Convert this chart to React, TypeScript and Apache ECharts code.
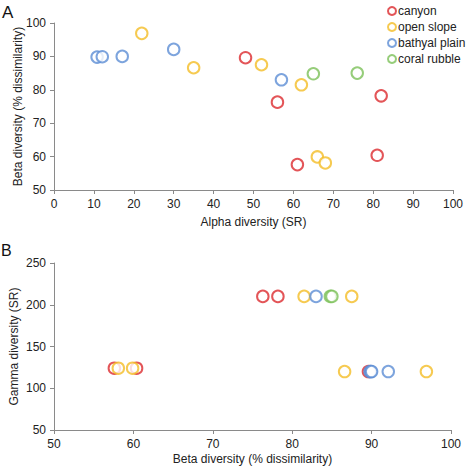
import React, { useEffect, useRef } from "react";
import * as echarts from "echarts";

// Habitat groups and their colours
const habitats = ["canyon", "open slope", "bathyal plain", "coral rubble"];
const colors = ["#dc2a2e", "#f4bd25", "#5d8dd5", "#7cc059"];

// Alpha diversity (SR) per sample, by habitat
const canyonAlpha = [48, 56, 82, 81, 61];
const slopeAlpha = [22, 35, 52, 62, 66, 68];
const plainAlpha = [10.8, 12.1, 17.1, 30, 57];
const rubbleAlpha = [65, 76];

// Beta diversity (% dissimilarity) per sample, by habitat
const canyonBeta = [89.6, 76.3, 78.2, 60.4, 57.6];
const slopeBeta = [96.9, 86.6, 87.5, 81.5, 59.9, 58.1];
const plainBeta = [89.8, 89.9, 90.0, 92.1, 83.0];
const rubbleBeta = [84.8, 85.0];

// Gamma diversity (SR) per sample, by habitat
const canyonGamma = [120, 210, 210, 124, 124];
const slopeGamma = [120, 120, 210, 210, 124, 124];
const plainGamma = [120, 120, 120, 120, 210];
const rubbleGamma = [210, 210];

const alphaByHabitat = [canyonAlpha, slopeAlpha, plainAlpha, rubbleAlpha];
const betaByHabitat = [canyonBeta, slopeBeta, plainBeta, rubbleBeta];
const gammaByHabitat = [canyonGamma, slopeGamma, plainGamma, rubbleGamma];

const FONT = "'Liberation Sans', Arial, Helvetica, sans-serif";

const zip = (a: number[], b: number[]) => a.map((v, i) => [v, b[i]]);

function axisBase(min: number, max: number, interval: number) {
  return {
    min,
    max,
    interval,
    nameMoveOverlap: false,
    splitLine: { show: false },
    axisLine: { show: true, onZero: false, lineStyle: { color: "#8a8a8a", width: 1 } },
    axisTick: { show: true, length: 4, lineStyle: { color: "#8a8a8a" } },
    axisLabel: { color: "#222", fontFamily: FONT, fontSize: 12, margin: 8 },
    nameTextStyle: { color: "#222", fontFamily: FONT, fontSize: 12 },
  };
}

export default function App() {
  const ref = useRef<HTMLDivElement>(null);

  useEffect(() => {
    if (!ref.current) return;
    const chart = echarts.init(ref.current, null, { renderer: "svg" });

    const series: any[] = [];
    habitats.forEach((name, i) => {
      const common = {
        name,
        type: "scatter",
        symbol: "emptyCircle",
        symbolSize: 11.5,
        itemStyle: { color: colors[i], borderColor: colors[i], borderWidth: 1.9 },
        emphasis: { disabled: true },
      };
      series.push({
        ...common,
        xAxisIndex: 0,
        yAxisIndex: 0,
        data: zip(alphaByHabitat[i], betaByHabitat[i]),
      });
      series.push({
        ...common,
        xAxisIndex: 1,
        yAxisIndex: 1,
        data: zip(betaByHabitat[i], gammaByHabitat[i]),
      });
    });

    chart.setOption({
      animation: false,
      backgroundColor: "#fff",
      textStyle: { fontFamily: FONT },
      grid: [
        { left: 54, right: 14, top: 23, height: 167, containLabel: false, outerBoundsMode: "none" },
        { left: 54, right: 16, top: 263, height: 167, containLabel: false, outerBoundsMode: "none" },
      ],
      xAxis: [
        {
          ...axisBase(0, 100, 10),
          gridIndex: 0,
          name: "Alpha diversity (SR)",
          nameLocation: "middle",
          nameGap: 26,
        },
        {
          ...axisBase(50, 100, 10),
          gridIndex: 1,
          name: "Beta diversity (% dissimilarity)",
          nameLocation: "middle",
          nameGap: 23,
        },
      ],
      yAxis: [
        {
          ...axisBase(50, 100, 10),
          gridIndex: 0,
          name: "Beta diversity (% dissimilarity)",
          nameLocation: "middle",
          nameGap: 30,
        },
        {
          ...axisBase(50, 250, 50),
          gridIndex: 1,
          name: "Gamma diversity (SR)",
          nameLocation: "middle",
          nameGap: 34,
        },
      ],
      legend: {
        data: habitats,
        orient: "vertical",
        left: 382,
        top: 0,
        itemWidth: 8,
        itemHeight: 8,
        itemGap: 4,
        icon: "emptyCircle",
        itemStyle: { borderWidth: 1.5 },
        textStyle: { color: "#222", fontFamily: FONT, fontSize: 12, padding: [0, 0, 0, -3] },
        selectedMode: false,
      },
      graphic: [
        {
          type: "text",
          left: 2,
          top: 4,
          style: { text: "A", fontFamily: FONT, fontSize: 17, fill: "#111" },
        },
        {
          type: "text",
          left: 1,
          top: 242,
          style: { text: "B", fontFamily: FONT, fontSize: 16, fill: "#111" },
        },
      ],
      series,
    });

    return () => chart.dispose();
  }, []);

  return (
    <div
      ref={ref}
      style={{ position: "fixed", left: 0, top: 0, width: 467, height: 467, background: "#fff" }}
    />
  );
}
